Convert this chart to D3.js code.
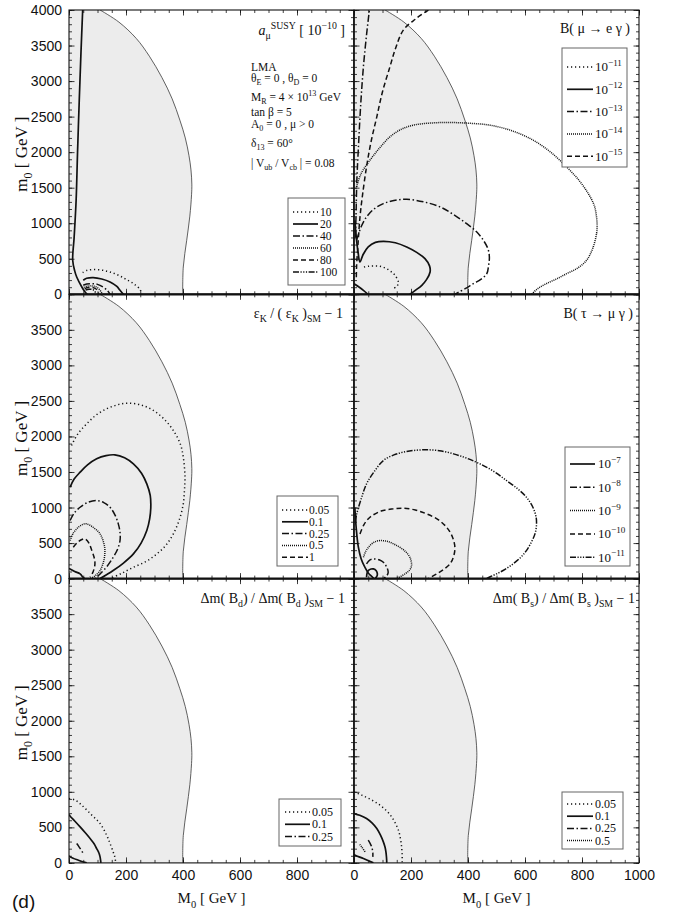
<!DOCTYPE html>
<html>
<head>
<meta charset="utf-8">
<script src="https://cdn.jsdelivr.net/npm/d3@7"></script>
<style>
  body { margin: 0; background: #fff; }
  svg text { font-family: "Liberation Serif", "Times New Roman", serif; fill: #111; }
  .tick text { font-family: "Liberation Sans", Arial, sans-serif; font-size: 14px; fill: #111; }
</style>
</head>
<body>
<svg id="chart" width="673" height="912"></svg>
<script>
// axes
const M0_DOMAIN = [0, 1000]
const m0_DOMAIN = [0, 4000]
const xMajor = [0, 200, 400, 600, 800, 1000]
const yMajor = [0, 500, 1000, 1500, 2000, 2500, 3000, 3500, 4000]

// edge of the shaded region, [M0, m0]
const shadeEdge = [[399, 0], [401, 384], [413, 760], [424, 1100], [430, 1400], [431, 1550], [428, 1750], [421, 1950],
  [408, 2200], [389, 2450], [362, 2750], [326, 3050], [282, 3350], [236, 3600], [175, 3830], [109, 4000]]

// a_mu SUSY [1e-10]
const amuLevels = ['10', '20', '40', '60', '80', '100']
const amuContours = [
  { level: '10', pts: [[48, 305], [62, 335], [85, 348], [115, 340], [144, 314], [175, 265], [202, 207], [230, 140], [249, 70], [255, 0]] },
  { level: '20', pts: [[50, 197], [62, 225], [85, 235], [115, 215], [144, 173], [168, 110], [179, 56], [191, 0]] },
  { level: '20', pts: [[48, 4000], [42, 3400], [36, 2730], [30, 2000], [25, 1323], [18, 800], [13, 480], [20, 330], [27, 244], [45, 103], [55, 40], [64, 0]] },
  { level: '40', pts: [[50, 127], [62, 145], [80, 150], [100, 140], [120, 100], [135, 50], [144, 0]] },
  { level: '60', pts: [[52, 100], [65, 115], [80, 118], [95, 105], [108, 60], [115, 20], [118, 0]] },
  { level: '80', pts: [[55, 80], [68, 95], [82, 95], [95, 75], [102, 35], [104, 0]] },
  { level: '100', pts: [[58, 60], [70, 72], [82, 68], [90, 45], [93, 15], [92, 0]] }
]

// B(mu -> e gamma), exponents of 10
const megLevels = [-11, -12, -13, -14, -15]
const megContours = [
  { level: -11, pts: [[35, 384], [50, 395], [68, 399], [90, 395], [109, 371], [130, 320], [144, 267], [156, 164], [150, 110], [138, 80]] },
  { level: -12, pts: [[3, 1040], [8, 800], [14, 600], [21, 455], [32, 560], [50, 666], [75, 730], [103, 746], [145, 725], [185, 666], [220, 590],
    [249, 502], [265, 400], [267, 314], [255, 210], [238, 127], [215, 55], [196, 0]] },
  { level: -12, pts: [[0, 150], [15, 110], [33, 56], [49, 0]] },
  { level: -13, pts: [[9, 760], [25, 950], [44, 1088], [70, 1200], [103, 1276], [140, 1320], [185, 1337], [245, 1300], [302, 1229], [350, 1120],
    [395, 995], [430, 880], [454, 760], [470, 640], [475, 525], [472, 400], [466, 290], [445, 210], [419, 150], [390, 80], [354, 0]] },
  { level: -13, pts: [[5, 800], [7, 1088], [10, 1600], [15, 2028], [24, 2700], [33, 3200], [44, 3650], [54, 4000]] },
  { level: -14, pts: [[9, 1511], [25, 1700], [56, 1887], [90, 2060], [126, 2215], [165, 2320], [208, 2380], [270, 2410], [337, 2417], [410, 2405],
    [477, 2380], [555, 2300], [629, 2168], [690, 2000], [746, 1793], [790, 1600], [822, 1417], [843, 1250], [851, 1088], [853, 960],
    [851, 853], [838, 650], [816, 478], [785, 370], [746, 290], [710, 215], [675, 150], [645, 80], [623, 0]] },
  { level: -15, pts: [[261, 4000], [215, 3870], [173, 3717], [145, 3450], [126, 3200], [100, 2850], [80, 2497], [60, 2150], [44, 1793],
    [30, 1400], [21, 1088], [14, 700], [9, 384], [8, 200]] }
]

// eps_K / (eps_K)_SM - 1
const epsLevels = ['0.05', '0.1', '0.25', '0.5', '1']
const epsContours = [
  { level: '0.05', pts: [[9, 1873], [30, 2030], [62, 2178], [95, 2300], [132, 2389], [170, 2445], [208, 2469], [255, 2440], [296, 2366],
    [335, 2240], [366, 2084], [390, 1900], [401, 1708], [407, 1426], [405, 1240], [401, 1051], [388, 840], [366, 629], [340, 470],
    [308, 347], [270, 240], [226, 159], [185, 75], [144, 0]] },
  { level: '0.1', pts: [[4, 1286], [18, 1400], [39, 1497], [65, 1600], [97, 1685], [130, 1730], [161, 1741], [195, 1700], [226, 1614],
    [255, 1480], [273, 1333], [285, 1170], [287, 1004], [283, 840], [273, 676], [253, 500], [226, 347], [190, 215], [155, 113], [130, 50], [109, 0]] },
  { level: '0.1', pts: [[0, 140], [4, 136], [20, 100], [39, 66], [49, 19], [55, 0]] },
  { level: '0.25', pts: [[4, 817], [18, 920], [39, 1004], [65, 1070], [97, 1098], [122, 1070], [144, 1004], [162, 890], [173, 770],
    [179, 650], [179, 535], [170, 410], [155, 300], [133, 170], [109, 66], [91, 0]] },
  { level: '0.5', pts: [[4, 535], [15, 640], [33, 723], [50, 765], [62, 770], [85, 720], [109, 629], [122, 500], [126, 394], [122, 250],
    [109, 113], [92, 40], [74, 0]] },
  { level: '1', pts: [[15, 441], [30, 510], [45, 550], [56, 558], [70, 500], [80, 394], [88, 300], [91, 207], [85, 100], [74, 19]] }
]

// B(tau -> mu gamma), exponents of 10
const tmgLevels = [-7, -8, -9, -10, -11]
const tmgContours = [
  { level: -7, pts: [[44, 19], [46, 80], [50, 113], [60, 135], [68, 136], [78, 110], [82, 66], [80, 30], [74, 0]] },
  { level: -7, pts: [[3, 1000], [8, 700], [15, 450], [25, 280], [38, 160], [50, 80], [62, 30], [70, 0]] },
  { level: -8, pts: [[44, 207], [55, 260], [68, 277], [88, 265], [103, 230], [115, 160], [120, 89], [115, 40], [103, 0]] },
  { level: -9, pts: [[33, 300], [42, 390], [56, 465], [72, 515], [91, 535], [120, 520], [150, 465], [178, 390], [196, 300], [202, 183],
    [195, 120], [179, 66], [150, 0]] },
  { level: -10, pts: [[21, 629], [35, 760], [56, 863], [95, 950], [138, 981], [173, 990], [215, 965], [255, 910], [295, 830], [325, 722],
    [345, 590], [354, 441], [350, 320], [337, 207], [315, 130], [290, 66], [261, 0]] },
  { level: -11, pts: [[5, 800], [9, 900], [25, 1120], [44, 1333], [70, 1500], [103, 1661], [140, 1740], [173, 1779], [215, 1805], [255, 1812],
    [300, 1800], [349, 1755], [395, 1695], [442, 1614], [490, 1510], [535, 1380], [575, 1260], [605, 1145], [628, 1000], [639, 863],
    [640, 740], [635, 629], [622, 510], [605, 394], [585, 300], [558, 207], [530, 130], [500, 66], [480, 30], [465, 0]] }
]

// dm(B_d) / dm(B_d)_SM - 1
const bdLevels = ['0.05', '0.1', '0.25']
const bdContours = [
  { level: '0.05', pts: [[0, 905], [21, 885], [45, 812], [80, 672], [109, 555], [132, 390], [144, 273], [155, 155], [161, 80], [164, 0]] },
  { level: '0.1', pts: [[0, 680], [4, 657], [20, 590], [39, 507], [58, 420], [74, 343], [88, 270], [97, 202], [105, 140], [109, 85], [112, 0]] },
  { level: '0.1', pts: [[0, 100], [4, 85], [33, 38], [62, 0]] },
  { level: '0.25', pts: [[27, 273], [33, 240], [39, 203], [50, 132]] }
]

// dm(B_s) / dm(B_s)_SM - 1
const bsLevels = ['0.05', '0.1', '0.25', '0.5']
const bsContours = [
  { level: '0.05', pts: [[0, 1000], [27, 953], [60, 890], [91, 812], [115, 730], [132, 648], [146, 550], [156, 460], [163, 340], [167, 225], [169, 100], [169, 0]] },
  { level: '0.1', pts: [[0, 695], [20, 670], [44, 625], [64, 560], [80, 484], [93, 390], [103, 296], [109, 220], [112, 155], [114, 80], [115, 0]] },
  { level: '0.1', pts: [[0, 120], [4, 108], [33, 61], [68, 0]] },
  { level: '0.25', pts: [[50, 320], [57, 270], [62, 225], [66, 150], [66, 85]] },
  { level: '0.5', pts: [[20, 260], [27, 225], [39, 155]] }
]

const dashes = {
  solid: null,
  dot: '1.2,2.8',
  fine: '1,1',
  dashdot: '7,2.5,1.5,2.5',
  dash: '5,3',
  dash3: '6,1.5,1.2,1.5,1.2,1.5,1.2,1.5'
}

const svg = d3.select('#chart')
const defs = svg.append('defs')
const W = 285
const H = 284.3
const colX = [69, 354]
const rowY = [10, 294.3, 578.6]

// text with sub/sup/italic pieces
function rich(g, x, y, parts, size, anchor) {
  const t = g.append('text').attr('x', x).attr('y', y)
    .attr('font-size', size).attr('text-anchor', anchor || 'start')
  let shift = 0
  parts.forEach(p => {
    const [s, m] = typeof p === 'string' ? [p, ''] : p
    const target = m === 'sub' ? size * 0.3 : m === 'sup' ? -size * 0.42 : 0
    const ts = t.append('tspan').attr('dy', target - shift).text(s)
    if (m === 'sub' || m === 'sup') ts.attr('font-size', size * 0.7)
    if (m === 'i') ts.attr('font-style', 'italic')
    shift = target
  })
  return t
}

const pow = e => ['10', [(e < 0 ? '\u2212' : '') + Math.abs(e), 'sup']]

const panels = [
  {
    col: 0, row: 0, levels: amuLevels, contours: amuContours,
    styles: ['dot', 'solid', 'dashdot', 'fine', 'dash', 'dash3'],
    label: l => [l],
    title: [['a', 'i'], ['\u03bc', 'sub'], ['SUSY', 'sup'], '  [ 10', ['\u221210', 'sup'], ' ]'], titleX: 345, titleY: 35,
    legend: { x: 288, y: 198, w: 57, h: 87, first: 212, step: 12, lx: 293, lw: 25, tx: 320, fs: 11.5 }
  },
  {
    col: 1, row: 0, levels: megLevels, contours: megContours,
    styles: ['dot', 'solid', 'dashdot', 'fine', 'dash'],
    label: pow,
    title: ['B( \u03bc \u2192 e \u03b3 )'], titleX: 630, titleY: 33,
    legend: { x: 562, y: 48, w: 65, h: 119, first: 67, step: 22.3, lx: 567, lw: 26, tx: 595, fs: 13 }
  },
  {
    col: 0, row: 1, levels: epsLevels, contours: epsContours,
    styles: ['dot', 'solid', 'dashdot', 'fine', 'dash'],
    label: l => [l],
    title: ['\u03b5', ['K', 'sub'], ' / ( \u03b5', ['K', 'sub'], ' )', ['SM', 'sub'], ' \u2212 1'], titleX: 343, titleY: 318,
    legend: { x: 277, y: 496, w: 61, h: 70, first: 510, step: 11.8, lx: 282, lw: 26, tx: 309, fs: 11.5 }
  },
  {
    col: 1, row: 1, levels: tmgLevels, contours: tmgContours,
    styles: ['solid', 'dashdot', 'fine', 'dash', 'dash3'],
    label: pow,
    title: ['B( \u03c4 \u2192 \u03bc \u03b3 )'], titleX: 633, titleY: 318,
    legend: { x: 565, y: 447, w: 65, h: 119, first: 464, step: 23.3, lx: 570, lw: 25, tx: 598, fs: 13 }
  },
  {
    col: 0, row: 2, levels: bdLevels, contours: bdContours,
    styles: ['dot', 'solid', 'dashdot'],
    label: l => [l],
    title: ['\u0394m( B', ['d', 'sub'], ') / \u0394m( B', ['d', 'sub'], ' )', ['SM', 'sub'], ' \u2212 1'], titleX: 345, titleY: 603,
    legend: { x: 279, y: 799, w: 62, h: 47, first: 812, step: 12.3, lx: 285, lw: 25, tx: 312, fs: 12 }
  },
  {
    col: 1, row: 2, levels: bsLevels, contours: bsContours,
    styles: ['dot', 'solid', 'dashdot', 'fine'],
    label: l => [l],
    title: ['\u0394m( B', ['s', 'sub'], ') / \u0394m( B', ['s', 'sub'], ' )', ['SM', 'sub'], ' \u2212 1'], titleX: 635, titleY: 603,
    legend: { x: 562, y: 792, w: 61, h: 57, first: 804, step: 12.2, lx: 567, lw: 26, tx: 595, fs: 12 }
  }
]

const styleOf = (p, level) => p.styles[p.levels.indexOf(level)]

panels.forEach((p, i) => {
  const left = colX[p.col]
  const top = rowY[p.row]
  const x = d3.scaleLinear().domain(M0_DOMAIN).range([left, left + W])
  const y = d3.scaleLinear().domain(m0_DOMAIN).range([top + H, top])
  const g = svg.append('g')

  defs.append('clipPath').attr('id', 'clip' + i)
    .append('rect').attr('x', left).attr('y', top).attr('width', W).attr('height', H)
  const plot = g.append('g').attr('clip-path', `url(#clip${i})`)

  // shaded region
  plot.append('path').datum(shadeEdge)
    .attr('d', d3.area().y(d => y(d[1])).x0(x(0)).x1(d => x(d[0])).curve(d3.curveCatmullRom))
    .attr('fill', '#ececec')
  plot.append('path').datum(shadeEdge)
    .attr('d', d3.line().x(d => x(d[0])).y(d => y(d[1])).curve(d3.curveCatmullRom))
    .attr('fill', 'none').attr('stroke', '#3a3a3a').attr('stroke-width', 0.8)

  // contours
  const line = d3.line().x(d => x(d[0])).y(d => y(d[1])).curve(d3.curveCatmullRom)
  plot.selectAll('.contour').data(p.contours).enter().append('path')
    .attr('class', 'contour')
    .attr('d', d => line(d.pts))
    .attr('fill', 'none').attr('stroke', '#111')
    .attr('stroke-width', d => styleOf(p, d.level) === 'solid' ? 1.7 : 1.5)
    .attr('stroke-dasharray', d => dashes[styleOf(p, d.level)])

  // ticks, pointing inwards on all four sides
  const yMinor = d3.range(0, 4001, 100)
  const xMinor = d3.range(0, 1001, 50)
  const showY = p.row === 0 ? yMajor : yMajor.filter(v => v < 4000)
  const showX = p.row === 2 ? (p.col === 1 ? xMajor : xMajor.filter(v => v < 1000)) : []
  const axes = [
    [d3.axisLeft, y, `translate(${left},0)`, yMinor, yMajor, p.col === 0 ? showY : []],
    [d3.axisRight, y, `translate(${left + W},0)`, yMinor, yMajor, []],
    [d3.axisBottom, x, `translate(0,${top + H})`, xMinor, xMajor, showX],
    [d3.axisTop, x, `translate(0,${top})`, xMinor, xMajor, []]
  ]
  axes.forEach(([axisFn, scale, tr, minor, major, shown]) => {
    const gm = g.append('g').attr('transform', tr)
      .call(axisFn(scale).tickValues(minor).tickSize(-3).tickFormat(() => ''))
    gm.select('.domain').remove()
    const gM = g.append('g').attr('transform', tr)
      .call(axisFn(scale).tickValues(major).tickSize(-5.5).tickPadding(7)
        .tickFormat(v => shown.includes(v) ? v : ''))
    gM.select('.domain').remove()
  })
  g.selectAll('.tick line').attr('stroke', '#111').attr('stroke-width', 0.8)

  // frame
  g.append('rect').attr('x', left).attr('y', top).attr('width', W).attr('height', H)
    .attr('fill', 'none').attr('stroke', '#111').attr('stroke-width', 1.1)

  // title
  rich(g, p.titleX, p.titleY, p.title, 14, 'end')

  // legend
  const L = p.legend
  g.append('rect').attr('x', L.x).attr('y', L.y).attr('width', L.w).attr('height', L.h)
    .attr('fill', '#fff').attr('stroke', '#666').attr('stroke-width', 1)
  p.levels.forEach((lv, k) => {
    const cy = L.first + k * L.step
    g.append('line').attr('x1', L.lx).attr('x2', L.lx + L.lw).attr('y1', cy).attr('y2', cy)
      .attr('stroke', '#111').attr('stroke-width', p.styles[k] === 'solid' ? 1.7 : 1.5)
      .attr('stroke-dasharray', dashes[p.styles[k]])
    rich(g, L.tx, cy + L.fs * 0.34, p.label(lv), L.fs)
  })
})

// row separators
rowY.slice(1).forEach(v => {
  svg.append('line').attr('x1', colX[0]).attr('x2', colX[1] + W).attr('y1', v).attr('y2', v)
    .attr('stroke', '#111').attr('stroke-width', 2.2)
})
svg.append('line').attr('x1', colX[1]).attr('x2', colX[1]).attr('y1', rowY[0]).attr('y2', rowY[2] + H)
  .attr('stroke', '#111').attr('stroke-width', 1.5)

// parameter block in the first panel
const params = [
  [70.5, ['LMA']],
  [81.5, ['\u03b8', ['E', 'sub'], ' = 0 ,  \u03b8', ['D', 'sub'], ' = 0']],
  [101, ['M', ['R', 'sub'], ' = 4 \u00d7 10', ['13', 'sup'], ' GeV']],
  [116, ['tan \u03b2 = 5']],
  [128, ['A', ['0', 'sub'], ' = 0 ,  \u03bc > 0']],
  [147, ['\u03b4', ['13', 'sub'], ' = 60\u00b0']],
  [166.5, ['| V', ['ub', 'sub'], ' / V', ['cb', 'sub'], ' | = 0.08']]
]
params.forEach(([py, parts]) => rich(svg, 251, py, parts, 11.5))

// axis titles
rowY.forEach(t => {
  rich(svg.append('g').attr('transform', `translate(27,${t + H / 2 + 2}) rotate(-90)`), 0, 0,
    ['m', ['0', 'sub'], '  [ GeV ]'], 17, 'middle')
})
colX.forEach(l => {
  rich(svg, l + W / 2, 903, ['M', ['0', 'sub'], '  [ GeV ]'], 15, 'middle')
})
svg.append('text').attr('x', 12).attr('y', 908)
  .style('font-family', '"Liberation Sans", Arial, sans-serif').attr('font-size', 19).text('(d)')
</script>
</body>
</html>
